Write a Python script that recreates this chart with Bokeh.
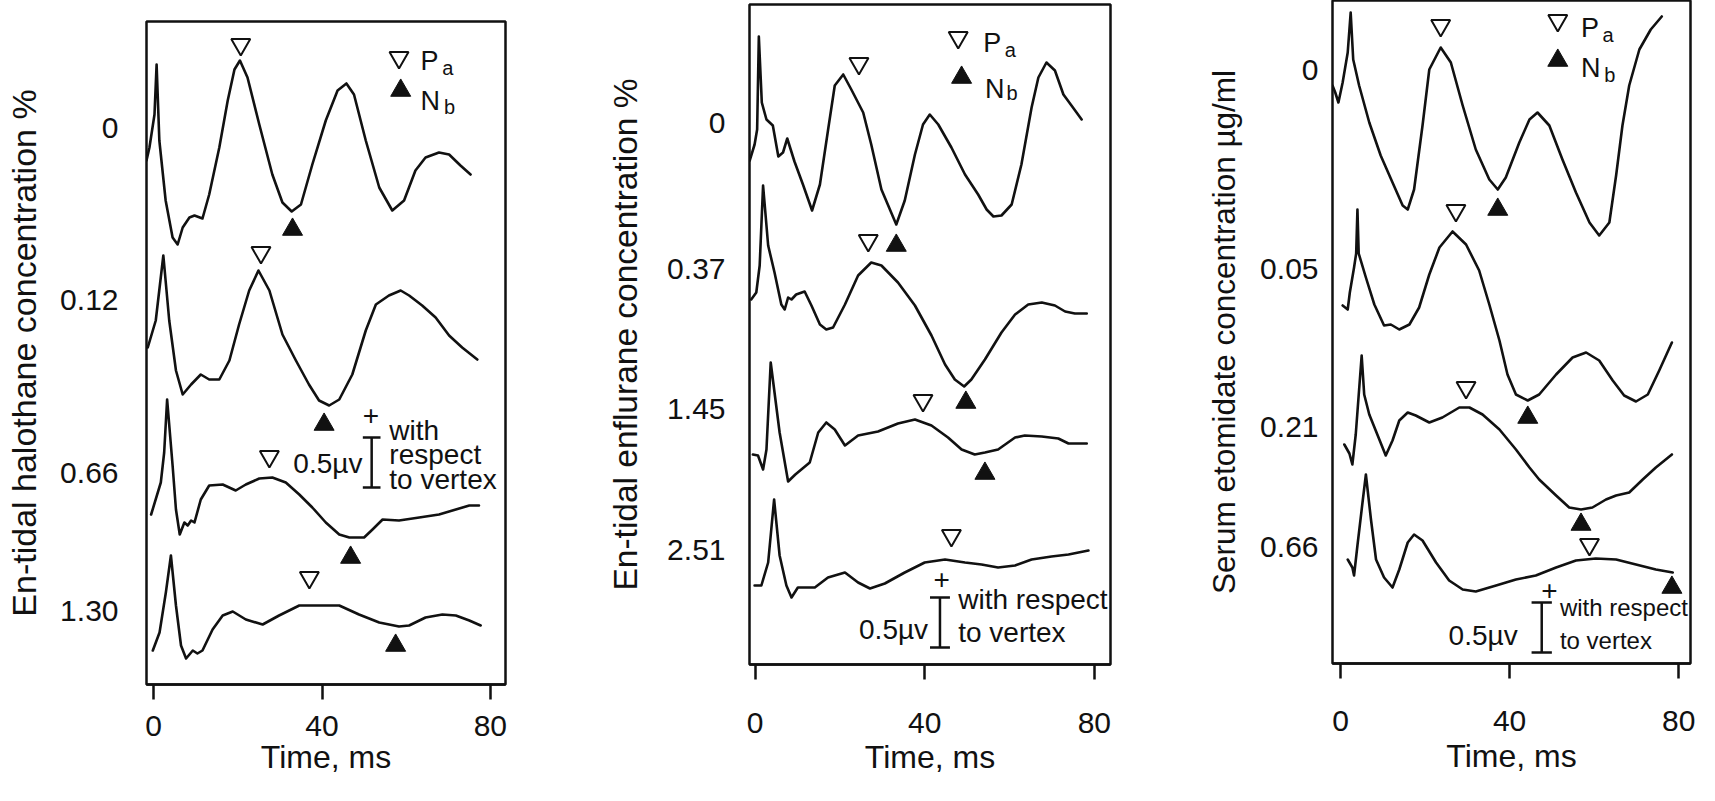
import numpy as np
from bokeh.plotting import figure
from bokeh.layouts import row
from bokeh.models import FixedTicker, Range1d
from bokeh.core.properties import value
from bokeh.embed import file_html
from bokeh.resources import INLINE

FONT = "Liberation Sans"
INK = "#111111"

# ---------------- Panel 1: halothane ----------------
halo_levels = ["0", "0.12", "0.66", "1.30"]
halo_level_pos = [5.57, 3.85, 2.12, 0.74]

halo_t0 = [-1.7, -1.0, 0.2, 0.7, 1.35, 2.85, 4.5, 5.7, 6.9, 8.5, 9.7, 11.6, 13.2, 15.6, 17.6, 19.2, 20.5, 22.3,
           25.1, 28.2, 30.6, 32.8, 35.0, 37.7, 40.9, 43.7, 45.8, 47.6, 50.4, 53.6, 56.7, 59.5, 62.2, 64.6,
           67.8, 70.2, 72.9, 75.3]
halo_v0 = [5.24, 5.37, 5.70, 6.20, 5.44, 4.84, 4.47, 4.40, 4.57, 4.67, 4.69, 4.66, 4.90, 5.37, 5.84, 6.15, 6.24,
           6.07, 5.60, 5.10, 4.82, 4.73, 4.80, 5.20, 5.64, 5.94, 6.01, 5.90, 5.44, 4.97, 4.74, 4.84, 5.14,
           5.27, 5.32, 5.30, 5.19, 5.10]
halo_t1 = [-1.4, 0.5, 2.3, 3.7, 5.3, 6.9, 8.9, 11.2, 13.2, 15.6, 18.0, 20.3, 22.7, 24.9, 27.5, 30.6, 33.8, 36.9,
           39.3, 41.7, 44.1, 47.2, 50.4, 52.8, 55.9, 58.7, 60.7, 63.8, 67.0, 70.2, 73.3, 76.9]
halo_v1 = [3.37, 3.64, 4.29, 3.64, 3.14, 2.90, 3.00, 3.10, 3.05, 3.05, 3.24, 3.60, 3.94, 4.14, 3.94, 3.50, 3.24,
           3.00, 2.84, 2.79, 2.85, 3.10, 3.54, 3.80, 3.89, 3.94, 3.89, 3.79, 3.67, 3.49, 3.37, 3.25]
halo_t2 = [-0.6, 1.7, 2.5, 3.2, 4.5, 5.3, 6.2, 7.3, 8.1, 8.9, 9.7, 11.2, 13.2, 16.4, 19.5, 21.9, 25.1, 28.2,
           31.4, 34.6, 37.7, 40.9, 44.1, 46.5, 50.0, 52.0, 54.4, 58.3, 63.1, 67.8, 72.6, 75.0, 77.3]
halo_v2 = [1.70, 2.02, 2.32, 2.85, 2.19, 1.75, 1.50, 1.62, 1.59, 1.64, 1.62, 1.85, 1.99, 2.00, 1.94, 2.00, 2.06,
           2.07, 2.02, 1.90, 1.77, 1.62, 1.50, 1.47, 1.47, 1.55, 1.65, 1.64, 1.67, 1.70, 1.76, 1.79, 1.79]
halo_t3 = [-0.2, 1.4, 2.9, 4.1, 5.3, 6.5, 7.7, 9.3, 10.4, 11.6, 14.0, 16.4, 18.8, 21.9, 25.9, 29.8, 34.6, 39.3,
           44.1, 48.8, 53.6, 58.3, 60.7, 64.6, 68.6, 71.8, 75.0, 77.7]
halo_v3 = [0.34, 0.52, 0.92, 1.29, 0.79, 0.39, 0.26, 0.34, 0.31, 0.34, 0.55, 0.69, 0.73, 0.65, 0.60, 0.69, 0.79,
           0.79, 0.79, 0.70, 0.62, 0.58, 0.59, 0.67, 0.70, 0.69, 0.64, 0.59]
halo_pa_t = [20.7, 25.5, 27.5, 37.0]
halo_pa_v = [6.40, 4.32, 2.28, 1.07]
halo_nb_t = [33.0, 40.5, 46.8, 57.5]
halo_nb_v = [4.55, 2.60, 1.27, 0.39]

# ---------------- Panel 2: enflurane ----------------
enfl_levels = ["0", "0.37", "1.45", "2.51"]
enfl_level_pos = [5.42, 3.96, 2.56, 1.15]

enfl_t0 = [-1.25, -0.1, 0.5, 0.9, 1.6, 2.7, 4.2, 5.5, 6.6, 7.6, 9.3, 11.3, 13.45, 15.3, 17.2, 18.8, 20.8, 22.7,
           25.5, 27.4, 29.8, 33.3, 35.3, 37.7, 39.6, 41.2, 43.2, 46.3, 49.5, 52.6, 54.6, 56.2, 58.1, 60.5,
           62.8, 65.2, 66.8, 68.7, 70.7, 72.7, 74.6, 77.0]
enfl_v0 = [5.04, 5.20, 5.35, 6.28, 5.62, 5.45, 5.39, 5.08, 5.12, 5.26, 5.03, 4.80, 4.54, 4.80, 5.34, 5.79, 5.90,
           5.75, 5.52, 5.20, 4.75, 4.40, 4.64, 5.10, 5.40, 5.50, 5.40, 5.17, 4.90, 4.70, 4.55, 4.48, 4.49,
           4.60, 5.00, 5.57, 5.87, 6.02, 5.94, 5.70, 5.59, 5.45]
enfl_t1 = [-0.9, 0.3, 1.1, 1.9, 3.1, 4.6, 6.2, 7.0, 7.8, 8.6, 9.7, 11.7, 13.3, 15.3, 16.8, 18.4, 21.2, 24.3,
           27.4, 29.8, 33.7, 37.7, 41.6, 44.8, 47.1, 49.3, 51.0, 54.2, 58.1, 61.3, 64.4, 67.6, 70.7, 73.1,
           75.4, 78.2]
enfl_v1 = [3.65, 3.72, 3.99, 4.79, 4.19, 3.92, 3.60, 3.55, 3.67, 3.65, 3.70, 3.73, 3.59, 3.40, 3.35, 3.37, 3.60,
           3.89, 4.02, 3.99, 3.82, 3.59, 3.29, 3.00, 2.85, 2.78, 2.85, 3.05, 3.32, 3.50, 3.60, 3.62, 3.59,
           3.53, 3.51, 3.51]
enfl_t2 = [-0.5, 0.7, 1.9, 2.7, 3.7, 5.8, 7.8, 9.5, 12.9, 14.9, 16.8, 18.8, 21.2, 24.3, 29.0, 33.7, 37.7, 41.6,
           45.5, 48.7, 51.8, 54.2, 57.3, 61.3, 63.6, 67.6, 71.5, 73.9, 78.2]
enfl_v2 = [2.10, 2.09, 1.95, 2.15, 3.02, 2.32, 1.83, 1.90, 2.02, 2.32, 2.42, 2.35, 2.19, 2.29, 2.33, 2.41, 2.45,
           2.39, 2.27, 2.15, 2.10, 2.12, 2.15, 2.27, 2.29, 2.28, 2.26, 2.21, 2.21]
enfl_t3 = [-0.1, 1.5, 3.1, 4.5, 5.8, 7.4, 8.6, 10.1, 14.1, 17.2, 21.2, 24.3, 27.1, 30.6, 35.3, 40.0, 44.8, 49.5,
           53.4, 57.3, 61.3, 65.2, 69.9, 73.9, 78.6]
enfl_v3 = [0.79, 0.79, 1.02, 1.65, 1.09, 0.79, 0.67, 0.77, 0.77, 0.87, 0.92, 0.82, 0.76, 0.81, 0.92, 1.02, 1.05,
           1.02, 1.00, 0.97, 0.99, 1.05, 1.08, 1.10, 1.14]
enfl_pa_t = [24.5, 26.7, 39.6, 46.3]
enfl_pa_v = [6.01, 4.24, 2.64, 1.29]
enfl_nb_t = [33.3, 49.7, 54.2]
enfl_nb_v = [4.19, 2.62, 1.91]

# ---------------- Panel 3: etomidate ----------------
etom_levels = ["0", "0.05", "0.21", "0.66"]
etom_level_pos = [5.94, 3.95, 2.37, 1.17]

etom_t0 = [-1.9, -1.25, -0.5, 0.5, 1.7, 2.4, 3.0, 4.4, 6.8, 9.5, 12.3, 14.7, 15.9, 17.4, 19.4, 21.0, 23.7, 26.1,
           28.9, 32.0, 35.2, 37.2, 39.1, 42.3, 44.7, 46.6, 49.4, 52.5, 55.7, 58.9, 61.2, 63.6, 65.2, 66.7,
           68.3, 70.7, 73.4, 76.0]
etom_v0 = [5.78, 5.71, 5.61, 5.81, 6.11, 6.51, 6.04, 5.78, 5.41, 5.08, 4.81, 4.58, 4.54, 4.74, 5.38, 5.94, 6.16,
           6.01, 5.58, 5.14, 4.84, 4.74, 4.86, 5.21, 5.44, 5.51, 5.38, 5.04, 4.71, 4.41, 4.28, 4.41, 4.88,
           5.38, 5.78, 6.14, 6.34, 6.47]
etom_t1 = [0.5, 1.7, 2.2, 3.2, 3.7, 4.0, 4.3, 6.0, 8.0, 10.3, 11.9, 13.9, 16.3, 18.6, 21.0, 23.4, 26.5, 29.7,
           32.8, 35.2, 37.6, 39.5, 41.5, 44.3, 47.0, 51.0, 54.9, 58.1, 61.2, 64.4, 67.1, 69.9, 72.7, 75.4, 78.4]
etom_v1 = [3.58, 3.54, 3.71, 3.96, 4.10, 4.54, 4.10, 3.86, 3.59, 3.38, 3.39, 3.34, 3.39, 3.56, 3.89, 4.16, 4.32,
           4.19, 3.93, 3.59, 3.23, 2.89, 2.69, 2.63, 2.69, 2.89, 3.06, 3.11, 3.03, 2.83, 2.68, 2.62, 2.69,
           2.93, 3.21]
etom_t2 = [0.9, 2.1, 2.8, 3.6, 5.0, 5.6, 6.8, 8.8, 10.7, 12.3, 13.9, 15.9, 17.8, 21.0, 24.1, 28.1, 30.5, 33.6,
           37.6, 41.5, 44.7, 47.0, 51.0, 54.1, 56.9, 59.6, 62.8, 65.2, 68.3, 71.5, 74.6, 78.4]
etom_v2 = [2.19, 2.10, 1.99, 2.29, 3.08, 2.69, 2.49, 2.28, 2.08, 2.23, 2.43, 2.51, 2.48, 2.41, 2.46, 2.56, 2.56,
           2.49, 2.34, 2.14, 1.96, 1.84, 1.68, 1.56, 1.54, 1.56, 1.64, 1.68, 1.71, 1.84, 1.96, 2.09]
etom_t3 = [1.7, 2.8, 3.2, 4.0, 5.2, 6.0, 7.2, 8.4, 10.3, 12.3, 13.9, 15.9, 17.4, 19.4, 22.6, 25.7, 28.9, 32.0,
           36.8, 41.5, 46.2, 51.0, 55.7, 60.4, 65.2, 69.9, 74.6, 78.6]
etom_v3 = [1.04, 0.96, 0.88, 1.18, 1.61, 1.89, 1.44, 1.04, 0.86, 0.76, 0.94, 1.21, 1.29, 1.23, 1.01, 0.83, 0.74,
           0.72, 0.78, 0.84, 0.88, 0.96, 1.03, 1.05, 1.04, 0.99, 0.94, 0.91]
etom_pa_t = [23.7, 27.3, 29.7, 58.9]
etom_pa_v = [6.38, 4.53, 2.76, 1.19]
etom_nb_t = [37.2, 44.3, 56.9, 78.4]
etom_nb_v = [4.54, 2.46, 1.39, 0.76]

x_ticks = [0, 40, 80]


def make_panel(cfg):
    p = figure(width=cfg["w"], height=785, x_range=Range1d(*cfg["xr"]), y_range=Range1d(*cfg["yr"]),
               output_backend="svg", toolbar_location=None, frame_align=False,
               min_border_left=cfg["bl"], min_border_right=cfg["br"],
               min_border_top=cfg["bt"], min_border_bottom=cfg["bb"])
    p.grid.visible = False
    p.background_fill_color = "white"
    p.border_fill_color = "white"
    p.outline_line_color = INK
    p.outline_line_width = 2.5

    xa = p.xaxis[0]
    xa.ticker = FixedTicker(ticks=x_ticks, minor_ticks=[])
    xa.axis_line_color = INK
    xa.axis_line_width = 2.5
    xa.major_tick_line_color = INK
    xa.major_tick_line_width = 2.5
    xa.major_tick_out = 15
    xa.major_tick_in = 0
    xa.minor_tick_line_color = None
    xa.major_label_text_font = FONT
    xa.major_label_text_font_size = "30px"
    xa.major_label_text_color = INK
    xa.major_label_standoff = cfg["xstand"]
    xa.axis_label = "Time, ms"
    xa.axis_label_text_font = FONT
    xa.axis_label_text_font_size = "32px"
    xa.axis_label_text_font_style = "normal"
    xa.axis_label_text_color = INK
    xa.axis_label_standoff = cfg["xlstand"]

    ya = p.yaxis[0]
    ya.ticker = FixedTicker(ticks=cfg["lev_pos"], minor_ticks=[])
    ya.major_label_overrides = {pos: lab for pos, lab in zip(cfg["lev_pos"], cfg["levels"])}
    ya.bounds = cfg["ybounds"]
    ya.axis_line_color = None
    ya.major_tick_line_color = None
    ya.minor_tick_line_color = None
    ya.major_tick_out = 0
    ya.major_tick_in = 0
    ya.major_label_standoff = cfg["ystand"]
    ya.major_label_text_font = FONT
    ya.major_label_text_font_size = "30px"
    ya.major_label_text_color = INK
    ya.axis_label = cfg["title"]
    ya.axis_label_text_font = FONT
    ya.axis_label_text_font_size = cfg["tfs"]
    ya.axis_label_text_font_style = "normal"
    ya.axis_label_text_color = INK
    ya.axis_label_standoff = cfg["ylstand"]

    for t, v in cfg["traces"]:
        p.line(t, v, line_color=INK, line_width=2.6, line_join="round", line_cap="round")

    p.scatter(cfg["pa"][0], cfg["pa"][1], marker="inverted_triangle", size=19,
              fill_color="white", line_color=INK, line_width=2)
    p.scatter(cfg["nb"][0], cfg["nb"][1], marker="triangle", size=20,
              fill_color=INK, line_color=INK, line_width=1)

    # legend
    lg = cfg["legend"]
    p.scatter([lg["tri_open"][0]], [lg["tri_open"][1]], marker="inverted_triangle", size=19,
              fill_color="white", line_color=INK, line_width=2)
    p.scatter([lg["tri_fill"][0]], [lg["tri_fill"][1]], marker="triangle", size=20,
              fill_color=INK, line_color=INK, line_width=1)
    p.text(x=[lg["P"][0], lg["N"][0]], y=[lg["P"][1], lg["N"][1]], text=["P", "N"],
           text_font=value(FONT), text_font_size="27px", text_color=INK,
           text_align="left", text_baseline="alphabetic")
    p.text(x=[lg["a"][0], lg["b"][0]], y=[lg["a"][1], lg["b"][1]], text=["a", "b"],
           text_font=value(FONT), text_font_size="20px", text_color=INK,
           text_align="left", text_baseline="alphabetic")

    # scale bar
    sb = cfg["bar"]
    bx, y0, y1, hw = sb["x"], sb["y0"], sb["y1"], sb["hw"]
    p.segment(x0=[bx, bx - hw, bx - hw], y0=[y0, y0, y1], x1=[bx, bx + hw, bx + hw], y1=[y1, y0, y1],
              line_color=INK, line_width=2.5)
    p.text(x=[sb["plus"][0]], y=[sb["plus"][1]], text=["+"], text_font=value(FONT),
           text_font_size="28px", text_color=INK, text_align="center", text_baseline="middle")
    p.text(x=[sb["uv"][0]], y=[sb["uv"][1]], text=["0.5\u00b5v"], text_font=value(FONT),
           text_font_size="28px", text_color=INK, text_align="right", text_baseline="middle")
    p.text(x=[q[0] for q in sb["lines"]], y=[q[1] for q in sb["lines"]], text=[q[2] for q in sb["lines"]],
           text_font=value(FONT), text_font_size=sb["fs"], text_color=INK,
           text_align="left", text_baseline="middle")
    return p


p1 = make_panel(dict(
    w=592, bl=146, br=87, bt=21, bb=101, xr=(-1.7, 83.6), yr=(0, 6.63),
    xstand=16, xlstand=0, ystand=28, ylstand=14, ybounds=(0.64, 5.84), tfs="34px",
    levels=halo_levels, lev_pos=halo_level_pos,
    title="En-tidal halothane concentration %",
    traces=[(halo_t0, halo_v0), (halo_t1, halo_v1), (halo_t2, halo_v2), (halo_t3, halo_v3)],
    pa=(halo_pa_t, halo_pa_v), nb=(halo_nb_t, halo_nb_v),
    legend=dict(tri_open=(58.3, 6.27), tri_fill=(58.7, 5.94), P=(63.4, 6.24), a=(68.6, 6.17),
                N=(63.4, 5.84), b=(69.0, 5.78)),
    bar=dict(x=51.8, y0=1.97, y1=2.47, hw=2.1, plus=(51.6, 2.69), uv=(49.6, 2.21), fs="28px",
             lines=[(56.0, 2.54, "with"), (56.0, 2.30, "respect"), (56.0, 2.05, "to vertex")]),
))

p2 = make_panel(dict(
    w=590, bl=157, br=72, bt=4, bb=121, xr=(-1.3, 83.8), yr=(0, 6.60),
    xstand=33, xlstand=3, ystand=24, ylstand=20, ybounds=(0.63, 5.53), tfs="33.5px",
    levels=enfl_levels, lev_pos=enfl_level_pos,
    title="En-tidal enflurane concentration %",
    traces=[(enfl_t0, enfl_v0), (enfl_t1, enfl_v1), (enfl_t2, enfl_v2), (enfl_t3, enfl_v3)],
    pa=(enfl_pa_t, enfl_pa_v), nb=(enfl_nb_t, enfl_nb_v),
    legend=dict(tri_open=(47.9, 6.27), tri_fill=(48.7, 5.87), P=(53.8, 6.22), a=(58.9, 6.15),
                N=(54.2, 5.76), b=(59.3, 5.72)),
    bar=dict(x=43.6, y0=0.17, y1=0.67, hw=2.35, plus=(44.0, 0.85), uv=(40.8, 0.35), fs="28px",
             lines=[(47.9, 0.65, "with respect"), (47.9, 0.32, "to vertex")]),
))

p3 = make_panel(dict(
    w=517, bl=150, br=9, bt=0, bb=122, xr=(-1.9, 82.8), yr=(0, 6.63),
    xstand=32, xlstand=4, ystand=14, ylstand=15, ybounds=(-0.17, 6.03), tfs="31.5px",
    levels=etom_levels, lev_pos=etom_level_pos,
    title="Serum etomidate concentration \u00b5g/ml",
    traces=[(etom_t0, etom_v0), (etom_t1, etom_v1), (etom_t2, etom_v2), (etom_t3, etom_v3)],
    pa=(etom_pa_t, etom_pa_v), nb=(etom_nb_t, etom_nb_v),
    legend=dict(tri_open=(51.4, 6.43), tri_fill=(51.4, 6.03), P=(56.9, 6.36), a=(62.0, 6.29),
                N=(56.9, 5.96), b=(62.4, 5.89)),
    bar=dict(x=47.6, y0=0.11, y1=0.61, hw=2.4, plus=(49.4, 0.73), uv=(41.9, 0.28), fs="24px",
             lines=[(51.9, 0.56, "with respect"), (51.9, 0.23, "to vertex")]),
))

layout = row(p1, p2, p3, spacing=0)
open("out.html", "w").write(file_html(layout, INLINE))
